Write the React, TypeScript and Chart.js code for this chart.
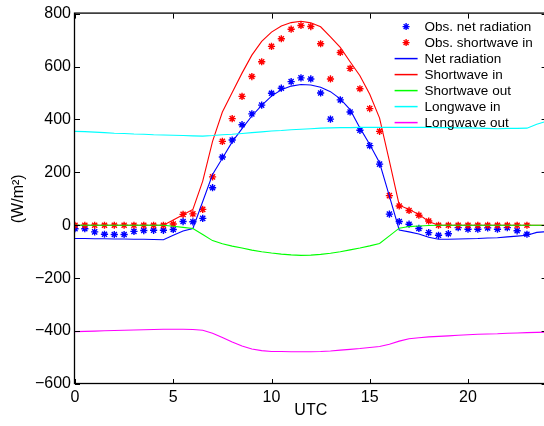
import { useEffect, useRef } from "react";
import { Chart, registerables } from "chart.js";

Chart.register(...registerables);

// Half-hourly observations (UTC hours)
const obsHours = [
  0, 0.5, 1, 1.5, 2, 2.5, 3, 3.5, 4, 4.5, 5, 5.5, 6, 6.5, 7, 7.5, 8, 8.5, 9, 9.5,
  10, 10.5, 11, 11.5, 12, 12.5, 13, 13.5, 14, 14.5, 15, 15.5, 16, 16.5, 17, 17.5,
  18, 18.5, 19, 19.5, 20, 20.5, 21, 21.5, 22, 22.5, 23,
];
const obsNetRadiation = [
  -13, -13, -25, -34, -35, -35, -23, -20, -19, -19, -16, 14, 13, 26, 142, 258, 322, 380, 421, 454,
  499, 518, 543, 557, 553, 500, 401, 474, 428, 359, 301, 231, 42, 14, 4, -12,
  -28, -38, -32, -9, -15, -15, -10, -15, -9, -21, -34,
];
const obsShortwaveIn = [
  0, 0, 0, 0, 0, 0, 0, 0, 0, 0, 5, 41, 43, 60, 183, 317, 403, 487, 562, 618,
  676, 705, 741, 755, 751, 686, 553, 653, 593, 516, 441, 355, 112, 73, 56, 38,
  16, 0, 0, 0, 0, 0, 0, 0, 0, 0, 0,
];

// Model output, half-hourly (UTC hours)
const modelHours = [
  0, 0.5, 1, 1.5, 2, 2.5, 3, 3.5, 4, 4.5, 5, 5.5, 6, 6.5, 7, 7.5, 8, 8.5, 9, 9.5,
  10, 10.5, 11, 11.5, 12, 12.5, 13, 13.5, 14, 14.5, 15, 15.5, 16, 16.5, 17, 17.5,
  18, 18.5, 19, 19.5, 20, 20.5, 21, 21.5, 22, 22.5, 23, 23.5, 24,
];
const netRadiation = [
  -50, -50, -51, -51, -52, -52, -53, -53, -54, -55, -38, -22, -12, 90, 192, 253, 315, 365, 413, 453,
  488, 512, 526, 532, 530, 522, 505, 478, 437, 368, 305, 236, 110, -18, -25, -33,
  -45, -53, -53, -52, -51, -50, -48, -47, -44, -41, -38, -27, -24,
];
const shortwaveIn = [
  0, 0, 0, 0, 0, 0, 0, 0, 0, 0, 20, 40, 60, 167, 317, 428, 502, 575, 643, 695,
  730, 753, 766, 771, 765, 750, 712, 672, 618, 565, 495, 405, 242, 76, 60, 41,
  14, 0, 0, 0, 0, 0, 0, 0, 0, 0, 0, 0, 0,
];
const shortwaveOut = [
  0, 0, 0, 0, 0, 0, 0, 0, 0, 0, -4, -8, -12, -35, -58, -70, -79, -86, -94, -100,
  -105, -109, -112, -114, -113, -110, -106, -100, -93, -86, -78, -69, -40, -11, -5, -3,
  -1, 0, 0, 0, 0, 0, 0, 0, 0, 0, 0, 0, 0,
];
const longwaveIn = [
  355, 354, 352, 350, 348, 347, 345, 344, 342, 341, 340, 339, 338, 337, 339, 342, 344, 347, 350, 353,
  356, 358, 361, 363, 365, 367, 368, 369, 369, 370, 370, 370, 370, 370, 370, 370,
  370, 369, 369, 368, 368, 367, 366, 365, 366, 366, 367, 382, 393,
];
const longwaveOut = [
  -402, -401, -400, -399, -398, -397, -396, -395, -394, -393, -393, -393, -394, -397, -408, -424, -441, -456, -468, -474,
  -477, -477, -478, -478, -478, -477, -475, -472, -469, -466, -462, -458, -450, -438, -429, -425,
  -422, -420, -418, -416, -414, -412, -411, -410, -408, -407, -406, -405, -404,
];

const xTickValues = [0, 5, 10, 15, 20];
const yTickValues = [-600, -400, -200, 0, 200, 400, 600, 800];

const FONT = "'Liberation Sans', Arial, Helvetica, sans-serif";
const BLUE = "#0000ff";
const RED = "#ff0000";
const GREEN = "#00ff00";
const CYAN = "#00ffff";
const MAGENTA = "#ff00ff";

const fmtTick = (v: number | string) => {
  const n = Number(v);
  return n < 0 ? "\u2212" + Math.abs(n) : String(n);
};

const pairs = (xs: number[], ys: number[]) => xs.map((x, i) => ({ x, y: ys[i] }));

function drawAsterisk(ctx: CanvasRenderingContext2D, cx: number, cy: number, r: number) {
  const d = r * Math.SQRT1_2;
  ctx.beginPath();
  ctx.moveTo(cx - r, cy);
  ctx.lineTo(cx + r, cy);
  ctx.moveTo(cx, cy - r);
  ctx.lineTo(cx, cy + r);
  ctx.moveTo(cx - d, cy - d);
  ctx.lineTo(cx + d, cy + d);
  ctx.moveTo(cx - d, cy + d);
  ctx.lineTo(cx + d, cy - d);
  ctx.stroke();
}

// Box, inward tick marks on all four sides, and an in-plot legend
const frameAndLegend = {
  id: "frameAndLegend",
  afterDatasetsDraw(chart: any) {
    const { ctx, chartArea: a, scales } = chart;
    const xs = scales.x;
    const ys = scales.y;
    const tl = 5;
    ctx.save();
    ctx.strokeStyle = "#000";
    ctx.lineWidth = 1.3;
    ctx.strokeRect(a.left - 0.5, a.top - 0.5, a.right - a.left, a.bottom - a.top);
    ctx.lineWidth = 1;
    ctx.beginPath();
    for (const v of xTickValues) {
      const px = Math.round(xs.getPixelForValue(v)) + 0.5;
      ctx.moveTo(px, a.bottom);
      ctx.lineTo(px, a.bottom - tl);
      ctx.moveTo(px, a.top);
      ctx.lineTo(px, a.top + tl);
    }
    for (const v of yTickValues) {
      const py = Math.round(ys.getPixelForValue(v)) + 0.5;
      ctx.moveTo(a.left, py);
      ctx.lineTo(a.left + tl, py);
      ctx.moveTo(a.right, py);
      ctx.lineTo(a.right - tl, py);
    }
    ctx.stroke();

    // legend
    const textX = a.right - 122;
    const sampleL = a.right - 152;
    const sampleR = a.right - 129;
    const rowY0 = a.top + 13;
    const rowH = 16;
    ctx.font = `13.5px ${FONT}`;
    ctx.textBaseline = "middle";
    ctx.textAlign = "left";
    chart.data.datasets.forEach((ds: any, i: number) => {
      const yy = rowY0 + i * rowH;
      if (ds.showLine) {
        ctx.strokeStyle = ds.borderColor;
        ctx.lineWidth = 1.5;
        ctx.beginPath();
        ctx.moveTo(sampleL, yy);
        ctx.lineTo(sampleR, yy);
        ctx.stroke();
      } else {
        ctx.strokeStyle = ds.pointBorderColor;
        ctx.lineWidth = 1.4;
        drawAsterisk(ctx, (sampleL + sampleR) / 2, yy, 3.5);
      }
      ctx.fillStyle = "#000";
      ctx.fillText(ds.label, textX, yy + 0.5);
    });
    ctx.restore();
  },
};

export default function App() {
  const canvasRef = useRef<HTMLCanvasElement | null>(null);

  useEffect(() => {
    const canvas = canvasRef.current;
    if (!canvas) return;

    const starSet = (label: string, xs: number[], ys: number[], color: string, order: number) => ({
      label,
      data: pairs(xs, ys),
      showLine: false,
      pointStyle: "star",
      pointRadius: 3.6,
      pointBorderWidth: 1.4,
      pointBorderColor: color,
      pointBackgroundColor: color,
      order,
    });
    const lineSet = (label: string, xs: number[], ys: number[], color: string, order: number) => ({
      label,
      data: pairs(xs, ys),
      showLine: true,
      borderColor: color,
      backgroundColor: color,
      borderWidth: 1.1,
      pointRadius: 0,
      tension: 0,
      fill: false,
      order,
    });

    const chart = new Chart(canvas, {
      type: "scatter",
      data: {
        datasets: [
          starSet("Obs. net radiation", obsHours, obsNetRadiation, BLUE, 6),
          starSet("Obs. shortwave in", obsHours, obsShortwaveIn, RED, 5),
          lineSet("Net radiation", modelHours, netRadiation, BLUE, 4),
          lineSet("Shortwave in", modelHours, shortwaveIn, RED, 3),
          lineSet("Shortwave out", modelHours, shortwaveOut, GREEN, 2),
          lineSet("Longwave in", modelHours, longwaveIn, CYAN, 1),
          lineSet("Longwave out", modelHours, longwaveOut, MAGENTA, 0),
        ] as any,
      },
      options: {
        animation: false,
        responsive: false,
        events: [],
        layout: { padding: { top: 12, right: 5, left: 0, bottom: 0 } },
        plugins: {
          legend: { display: false },
          tooltip: { enabled: false },
        },
        scales: {
          x: {
            type: "linear",
            min: 0,
            max: 24,
            afterBuildTicks: (s: any) => {
              s.ticks = xTickValues.map((value) => ({ value }));
            },
            afterFit: (s: any) => {
              s.height = 42;
            },
            grid: { display: false, drawTicks: false },
            border: { display: false },
            ticks: {
              color: "#000",
              font: { family: FONT, size: 16 },
              padding: 4,
              maxRotation: 0,
              autoSkip: false,
              callback: fmtTick,
            },
            title: {
              display: true,
              text: "UTC",
              color: "#000",
              font: { family: FONT, size: 16 },
              padding: { top: 0, bottom: 6 },
            },
          },
          y: {
            type: "linear",
            min: -600,
            max: 800,
            afterBuildTicks: (s: any) => {
              s.ticks = yTickValues.map((value) => ({ value }));
            },
            afterFit: (s: any) => {
              s.width = 75;
            },
            grid: { display: false, drawTicks: false },
            border: { display: false },
            ticks: {
              color: "#000",
              font: { family: FONT, size: 16 },
              padding: 4,
              autoSkip: false,
              callback: fmtTick,
            },
            title: {
              display: true,
              text: "(W/m\u00b2)",
              color: "#000",
              font: { family: FONT, size: 16 },
              padding: { top: 9, bottom: 0 },
            },
          },
        },
      } as any,
      plugins: [frameAndLegend],
    });

    return () => chart.destroy();
  }, []);

  return (
    <div
      style={{
        position: "fixed",
        left: 0,
        top: 0,
        width: 544,
        height: 426,
        overflow: "hidden",
        background: "#fff",
      }}
    >
      <canvas ref={canvasRef} width={552} height={426} style={{ display: "block" }} />
    </div>
  );
}
